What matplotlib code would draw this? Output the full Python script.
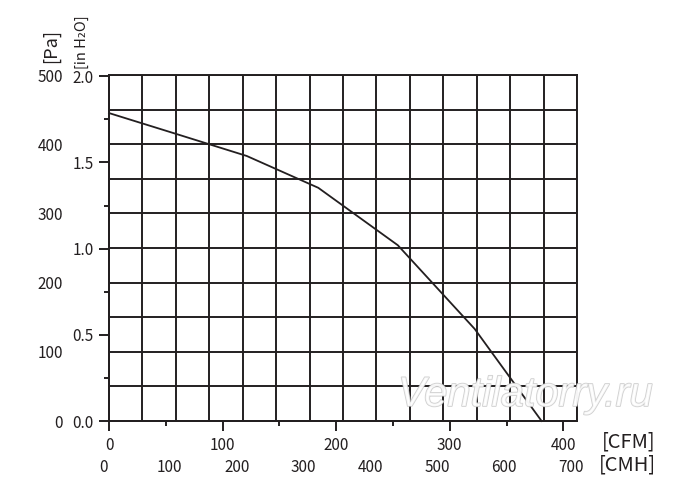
#!/usr/bin/env python3
"""Fan performance curve: static pressure vs. air flow (CFM / CMH, Pa / in H2O)."""
import matplotlib
matplotlib.use("Agg")
import matplotlib.pyplot as plt
import matplotlib.transforms as mtransforms
import matplotlib.patheffects as pe
import numpy as np

# --- data ------------------------------------------------------------------
flow_cmh = [0, 100, 206, 313, 432, 547, 647]
pressure_pa = [445, 415, 383, 337, 254, 133, 0]

cmh_ticks = [0, 100, 200, 300, 400, 500, 600, 700]
pa_ticks = [0, 100, 200, 300, 400, 500]
cfm_ticks = [0, 100, 200, 300, 400]
cfm_minor = [50, 150, 250, 350]
inh2o_ticks = [0.0, 0.5, 1.0, 1.5, 2.0]
inh2o_minor = [0.25, 0.75, 1.25, 1.75]
grid_step = 50

CMH_PER_CFM = 1.699
PA_PER_INH2O = 249.09
INK = "#231f20"
FONT = ["Noto Sans CJK JP", "DejaVu Sans"]
TICK_FS = 11

plt.rcParams["font.family"] = FONT
plt.rcParams["axes.linewidth"] = 1.4


def cmh_to_cfm(x):
    return np.asarray(x) / CMH_PER_CFM


def cfm_to_cmh(x):
    return np.asarray(x) * CMH_PER_CFM


def pa_to_inh2o(y):
    return np.asarray(y) / PA_PER_INH2O


def inh2o_to_pa(y):
    return np.asarray(y) * PA_PER_INH2O


fig = plt.figure(figsize=(7.0, 4.94), dpi=100)
ax = fig.add_axes([109 / 700, 1 - 421 / 494, 468 / 700, 346 / 494])
ax.set_xlim(0, 700)
ax.set_ylim(0, 500)

# grid every 50 CMH / 50 Pa
ax.set_xticks(cmh_ticks)
ax.set_xticks(np.arange(0, 701, grid_step), minor=True)
ax.set_yticks(pa_ticks)
ax.set_yticks(np.arange(0, 501, grid_step), minor=True)
ax.grid(True, which="both", color=INK, linewidth=1.4)
ax.set_axisbelow(True)
for s in ax.spines.values():
    s.set_color(INK)

# primary axes carry the CMH / Pa labels without tick marks
ax.tick_params(axis="x", which="both", length=0, pad=27, labelsize=TICK_FS, labelcolor=INK)
ax.tick_params(axis="y", which="both", length=0, pad=33, labelsize=TICK_FS, labelcolor=INK)
ax.set_xticklabels([str(v) for v in cmh_ticks])
ax.set_yticklabels([str(v) for v in pa_ticks])
shift = mtransforms.ScaledTranslation(-6 / 100, 0, fig.dpi_scale_trans)
for lbl in ax.get_xticklabels():
    lbl.set_transform(lbl.get_transform() + shift)

# CFM axis with ticks
sx = ax.secondary_xaxis("bottom", functions=(cmh_to_cfm, cfm_to_cmh))
sx.set_xticks(cfm_ticks)
sx.set_xticks(cfm_minor, minor=True)
sx.set_xticklabels([str(v) for v in cfm_ticks])
sx.tick_params(which="major", length=7.2, width=1.4, color=INK, pad=4,
               labelsize=TICK_FS, labelcolor=INK)
sx.tick_params(which="minor", length=3.6, width=1.4, color=INK)
sx.spines["bottom"].set_color(INK)

# in H2O axis with ticks
sy = ax.secondary_yaxis("left", functions=(pa_to_inh2o, inh2o_to_pa))
sy.set_yticks(inh2o_ticks)
sy.set_yticks(inh2o_minor, minor=True)
sy.set_yticklabels([f"{v:.1f}" for v in inh2o_ticks])
sy.tick_params(which="major", length=7.2, width=1.4, color=INK, pad=4,
               labelsize=TICK_FS, labelcolor=INK)
sy.tick_params(which="minor", length=3.6, width=1.4, color=INK)
sy.spines["left"].set_color(INK)

# performance curve
ax.plot(flow_cmh, pressure_pa, color=INK, linewidth=1.3, clip_on=False, zorder=3)

# unit labels
fig.text(602 / 700, 1 - 442 / 494, "[CFM]", fontsize=14.5, color=INK,
         ha="left", va="center")
fig.text(599 / 700, 1 - 465 / 494, "[CMH]", fontsize=14.5, color=INK,
         ha="left", va="center")
fig.text(51 / 700, 1 - 46 / 494, "[Pa]", fontsize=13, color=INK,
         rotation=90, ha="center", va="center")
fig.text(82 / 700, 1 - 42 / 494, "[in H₂O]", fontsize=10.5, color=INK,
         rotation=90, ha="center", va="center")

# watermark
fig.text(398 / 700, 1 - 406 / 494, "Ventilatorry.ru", fontsize=30,
         family="Liberation Sans", style="italic", color="white", alpha=0.8,
         ha="left", va="baseline", zorder=10,
         path_effects=[pe.withStroke(linewidth=1.2, foreground="#c4c4c4")])

fig.savefig("out.png", dpi=100)
plt.close(fig)
